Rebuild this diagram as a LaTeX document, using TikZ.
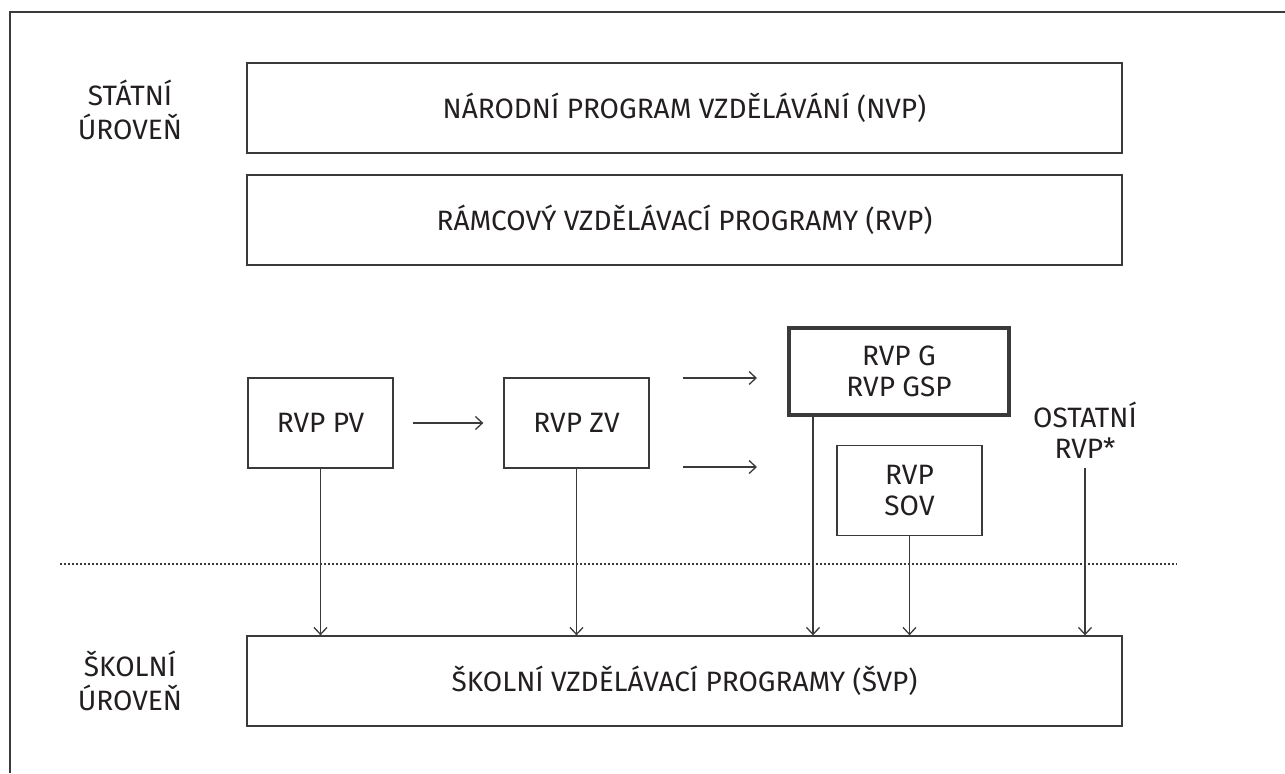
\documentclass[tikz,border=0pt]{standalone}
\usepackage{fontspec}
\setmainfont{Fira Sans}
\usetikzlibrary{arrows.meta,calc}

\definecolor{ink}{HTML}{231F20}
\definecolor{rule}{HTML}{3A3A3A}

\tikzset{
	box/.style={draw=rule, line width=0.65pt, minimum width=72.5pt, minimum height=45pt, inner sep=0pt, align=center},
	widebox/.style={box, minimum width=437.5pt},
	level/.style={align=center, font=\fontsize{14}{17}\selectfont},
	flow/.style={draw=rule, line width=0.65pt, -{Straight Barb[length=3.5pt, width=6.5pt]}},
}

\begin{document}
\begin{tikzpicture}[x=0.5pt, y=0.5pt, font=\fontsize{14}{15.5}\selectfont, text=ink]
	\useasboundingbox (0,0) rectangle (1285,773);
	\draw [rule, line width=0.65pt] (10,0) -- (10,761) -- (1285,761);
	% levels
	\node [level] (state) at (130,663) {STÁTNÍ\\ÚROVEŇ};
	\node [level] (school) at (130,92) {ŠKOLNÍ\\ÚROVEŇ};
	\node [widebox] (NVP) at (684.5,665) {NÁRODNÍ PROGRAM VZDĚLÁVÁNÍ (NVP)};
	\node [widebox] (RVP) at (684.5,553) {RÁMCOVÝ VZDĚLÁVACÍ PROGRAMY (RVP)};
	\node [widebox] (SVP) at (684.5,92) {ŠKOLNÍ VZDĚLÁVACÍ PROGRAMY (ŠVP)};
	% programmes
	\node [box] (PV) at (320.5,350) {RVP PV};
	\node [box] (ZV) at (576.5,350) {RVP ZV};
	\node [box, line width=2pt, minimum width=110pt, minimum height=43.5pt] (G) at (899,401.5) {RVP G\\RVP GSP};
	\node [box] (SOV) at (909.5,282.5) {RVP\\SOV};
	\node [align=center] (other) at (1085,343) {OSTATNÍ\\RVP*};
	\coordinate (Gfoot) at ($(G.south west)+(26,0)$);
	\coordinate (otherfoot) at (1085,305);
	\coordinate (upA) at (683,395);
	\coordinate (upB) at (757,395);
	\coordinate (downA) at (683,306);
	\coordinate (downB) at (757,306);
	\draw [flow, shorten <=9.5pt, shorten >=10pt] (PV) -- (ZV);
	\draw [flow] (upA) -- (upB);
	\draw [flow] (downA) -- (downB);
	\foreach \src in {PV,ZV,Gfoot,SOV,otherfoot}{
		\draw [flow] (\src) -- (\src |- SVP.north);
	}
	\draw [rule, line width=0.9pt, dash pattern=on 0.9pt off 1.1pt] (60,209) -- (1177,209);
\end{tikzpicture}
\end{document}
